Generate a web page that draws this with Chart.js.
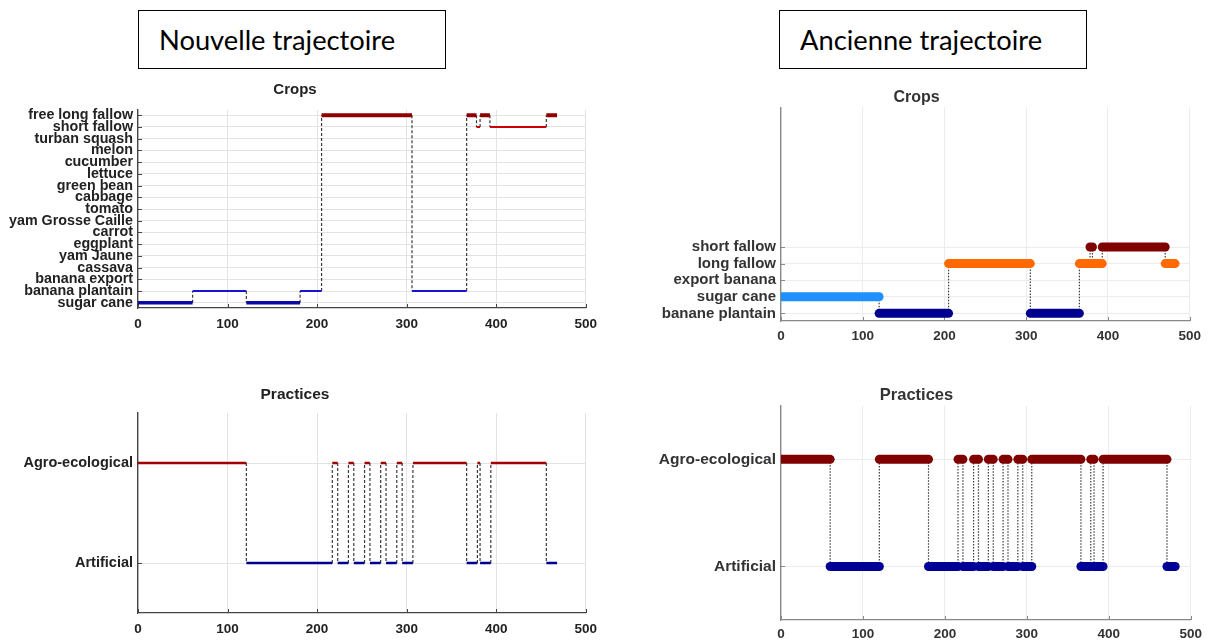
<!DOCTYPE html>
<html>
<head>
<meta charset="utf-8">
<script src="https://cdn.jsdelivr.net/npm/chart.js@4.4.1/dist/chart.umd.min.js"></script>
<style>
  html, body { margin: 0; padding: 0; background: #fff; width: 1210px; height: 640px; overflow: hidden; }
  .box {
    position: absolute; top: 10px; width: 308px; height: 59px; box-sizing: border-box;
    border: 1.5px solid #000; display: flex; align-items: center; padding-left: 20px;
    font-family: Lato, 'Open Sans', sans-serif; font-size: 27.3px; color: #000;
  }
  canvas { position: absolute; }
</style>
</head>
<body>
<div class="box" style="left:138px">Nouvelle trajectoire</div>
<div class="box" style="left:779px">Ancienne trajectoire</div>
<canvas id="newCrops" width="605" height="258" style="left:0;top:80px"></canvas>
<canvas id="newPractices" width="605" height="258" style="left:0;top:385px"></canvas>
<canvas id="oldCrops" width="568" height="263" style="left:640px;top:88px"></canvas>
<canvas id="oldPractices" width="568" height="264" style="left:640px;top:386px"></canvas>
<script>
// ------------------------
// Data
// ------------------------

const xTicks = [0, 100, 200, 300, 400, 500];

// new trajectory - crops (segment i runs from times[i] to times[i+1] on level[i])
const newCropLabels = ['sugar cane', 'banana plantain', 'banana export', 'cassava', 'yam Jaune', 'eggplant',
    'carrot', 'yam Grosse Caille', 'tomato', 'cabbage', 'green bean', 'lettuce', 'cucumber', 'melon',
    'turban squash', 'short fallow', 'free long fallow'];
const newCropTimes = [0, 61, 121, 181, 205, 306, 367, 378, 382, 393, 456, 468];
const newCropLevels = [0, 1, 0, 1, 16, 1, 16, 15, 16, 15, 16];

// new trajectory - practices (0 = Artificial, 1 = Agro-ecological)
const practiceLabels = ['Artificial', 'Agro-ecological'];
const newPracTimes = [0, 121, 217, 223, 235, 241, 253, 259, 271, 277, 289, 295, 307, 367, 379, 382, 394, 456, 468];
const newPracLevels = [1, 0, 1, 0, 1, 0, 1, 0, 1, 0, 1, 0, 1, 0, 1, 0, 1, 0];

// old trajectory - crops
const oldCropLabels = ['banane plantain', 'sugar cane', 'export banana', 'long fallow', 'short fallow'];
const oldCropTimes = [0, 120, 205, 305, 365, 378, 381, 393, 470, 482];
const oldCropLevels = [1, 0, 3, 0, 3, 4, 3, 4, 3];

// old trajectory - practices
const oldPracTimes = [0, 60, 120, 180, 216, 222, 235, 241, 253, 259, 271, 277, 289, 295, 306, 366, 378, 382, 393, 471, 481];
const oldPracLevels = [1, 0, 1, 0, 1, 0, 1, 0, 1, 0, 1, 0, 1, 0, 1, 0, 1, 0, 1, 0];

// ------------------------
// Styles
// ------------------------

const newCropColor = { 0: '#0a0aa6', 1: '#1616d2', 15: '#cc0000', 16: '#8e0000' };
const newCropWidth = { 0: 3.5, 1: 2.2, 15: 2, 16: 4 };
const newPracColor = ['#00008e', '#a00000'];
const oldCropColor = ['#000090', '#1e90ff', '#888', '#ff6a00', '#800000'];
const oldPracColor = ['#000096', '#800000'];

const FONT = "'Liberation Sans', Arial, Helvetica, sans-serif";

// small tick marks drawn inside the plot, matlab style
const innerTicks = {
    id: 'innerTicks',
    beforeDatasetsDraw(chart, args, o) {
        const { ctx, scales: { x, y }, chartArea: a } = chart;
        ctx.save();
        ctx.strokeStyle = o.color;
        ctx.lineWidth = 1;
        ctx.beginPath();
        x.ticks.forEach(t => {
            const px = Math.round(x.getPixelForValue(t.value)) + 0.5;
            ctx.moveTo(px, a.bottom);
            ctx.lineTo(px, a.bottom - 4);
        });
        y.ticks.forEach(t => {
            const py = Math.round(y.getPixelForValue(t.value)) + 0.5;
            ctx.moveTo(a.left, py);
            ctx.lineTo(a.left + 4, py);
        });
        ctx.stroke();
        ctx.restore();
    }
};

// one dataset per segment + one dashed dataset for the vertical jumps
const buildDatasets = (times, levels, color, width, cap, dash) => {
    const jumps = [];
    for (let i = 1; i < levels.length; i++) {
        jumps.push({ x: times[i], y: levels[i - 1] }, { x: times[i], y: levels[i] }, { x: times[i], y: null });
    }
    const sets = [{
        data: jumps, borderColor: '#3a3a3a', borderWidth: 1.2, borderDash: dash,
        pointRadius: 0, spanGaps: false, order: 2
    }];
    levels.forEach((lv, i) => {
        sets.push({
            data: [{ x: times[i], y: lv }, { x: times[i + 1], y: lv }],
            borderColor: color[lv], borderWidth: width(lv), borderCapStyle: cap,
            pointRadius: 0, order: 1
        });
    });
    return sets;
};

const makeChart = (id, cfg) => new Chart(document.getElementById(id), {
    type: 'line',
    data: { datasets: cfg.datasets },
    plugins: [innerTicks],
    options: {
        responsive: false,
        animation: false,
        devicePixelRatio: 1,
        layout: { padding: { right: 15 } },
        plugins: {
            legend: { display: false },
            tooltip: { enabled: false },
            innerTicks: { color: cfg.axis },
            title: {
                display: true, text: cfg.title, color: cfg.text,
                font: { family: FONT, size: cfg.titleSize, weight: 'bold' },
                padding: cfg.titlePad
            }
        },
        scales: {
            x: {
                type: 'linear', min: 0, max: 500,
                afterBuildTicks: s => { s.ticks = xTicks.map(v => ({ value: v })); },
                afterFit: s => { s.height = 30; },
                grid: { color: cfg.grid, drawTicks: false },
                border: { color: cfg.axis, width: 1.3 },
                ticks: { color: cfg.text, padding: cfg.xPad, font: { family: FONT, size: 13.5, weight: 'bold' } }
            },
            y: {
                type: 'linear', min: cfg.yMin, max: cfg.yMax,
                afterBuildTicks: s => { s.ticks = cfg.labels.map((_, i) => ({ value: i })); },
                afterFit: s => { s.width = cfg.yWidth; },
                grid: { color: cfg.grid, drawTicks: false },
                border: { color: cfg.axis, width: 1.3 },
                ticks: {
                    autoSkip: false, color: cfg.text, padding: 5,
                    font: { family: FONT, size: cfg.yFont, weight: 'bold', lineHeight: 1 },
                    callback: v => cfg.labels[v]
                }
            }
        }
    }
});

// ------------------------
// Charts
// ------------------------

makeChart('newCrops', {
    title: 'Crops', titleSize: 15, titlePad: { top: 1, bottom: 11 },
    labels: newCropLabels, yMin: -0.45, yMax: 16.45, yWidth: 138, yFont: 14.3, xPad: 8,
    text: '#222', axis: '#444', grid: '#e3e3e3',
    datasets: buildDatasets(newCropTimes, newCropLevels, newCropColor, lv => newCropWidth[lv], 'butt', [3, 2])
});

makeChart('newPractices', {
    title: 'Practices', titleSize: 15.5, titlePad: { top: 0, bottom: 9.4 },
    labels: practiceLabels, yMin: -0.5, yMax: 1.5, yWidth: 138, yFont: 14.5, xPad: 8,
    text: '#222', axis: '#444', grid: '#e3e3e3',
    datasets: buildDatasets(newPracTimes, newPracLevels, newPracColor, () => 2.5, 'butt', [3, 2])
});

makeChart('oldCrops', {
    title: 'Crops', titleSize: 16, titlePad: { top: 0, bottom: 0 },
    labels: oldCropLabels, yMin: -0.46, yMax: 12.43, yWidth: 141, yFont: 15, xPad: 7,
    text: '#333', axis: '#888', grid: '#ececec',
    datasets: buildDatasets(oldCropTimes, oldCropLevels, oldCropColor, () => 9, 'round', [1.5, 1.5])
});

makeChart('oldPractices', {
    title: 'Practices', titleSize: 16.5, titlePad: { top: 0, bottom: 0 },
    labels: practiceLabels, yMin: -0.5, yMax: 1.5, yWidth: 141, yFont: 15.5, xPad: 6,
    text: '#333', axis: '#888', grid: '#ececec',
    datasets: buildDatasets(oldPracTimes, oldPracLevels, oldPracColor, () => 9, 'round', [1.5, 1.5])
});
</script>
</body>
</html>
